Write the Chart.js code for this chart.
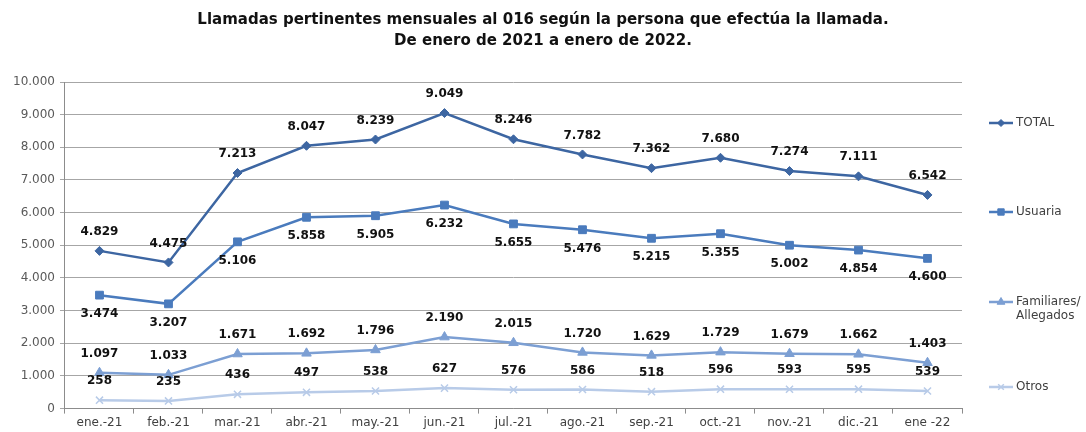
<!DOCTYPE html>
<html>
<head>
<meta charset="utf-8">
<script src="https://cdn.jsdelivr.net/npm/chart.js@4/dist/chart.umd.min.js"></script>
<style>
  html, body { margin: 0; padding: 0; background: #fff; }
  #wrap { width: 1086px; height: 432px; position: relative; }
</style>
</head>
<body>
<div id="wrap"><canvas id="llamadasChart"></canvas></div>
<script>
const meses = ['ene.-21', 'feb.-21', 'mar.-21', 'abr.-21', 'may.-21', 'jun.-21', 'jul.-21',
  'ago.-21', 'sep.-21', 'oct.-21', 'nov.-21', 'dic.-21', 'ene -22'];
const total = [4829, 4475, 7213, 8047, 8239, 9049, 8246, 7782, 7362, 7680, 7274, 7111, 6542];
const usuaria = [3474, 3207, 5106, 5858, 5905, 6232, 5655, 5476, 5215, 5355, 5002, 4854, 4600];
const familiares = [1097, 1033, 1671, 1692, 1796, 2190, 2015, 1720, 1629, 1729, 1679, 1662, 1403];
const otros = [258, 235, 436, 497, 538, 627, 576, 586, 518, 596, 593, 595, 539];
const titulo = ['Llamadas pertinentes mensuales al 016 según la persona que efectúa la llamada.',
  'De enero de 2021 a enero de 2022.'];

const fontName = "'DejaVu Sans', sans-serif";

function fmt(v) {
  return String(v).replace(/\B(?=(\d{3})+(?!\d))/g, '.');
}

function serie(label, values, color, style, radius, labelPos) {
  return {
    label: label,
    data: values,
    borderColor: color,
    backgroundColor: color,
    borderWidth: 2.5,
    pointStyle: style,
    pointRadius: radius,
    pointBorderWidth: style === 'crossRot' ? 1.5 : 1,
    pointBorderColor: color,
    tension: 0,
    labelPos: labelPos
  };
}

const data = {
  labels: meses,
  datasets: [
    serie('TOTAL', total, '#3d66a2', 'rectRot', 4.5, 'above'),
    serie('Usuaria', usuaria, '#4a7bbd', 'rect', 5.5, 'below'),
    serie('Familiares/\nAllegados', familiares, '#7c9fd3', 'triangle', 5.5, 'above'),
    serie('Otros', otros, '#b8cbe8', 'crossRot', 5, 'above')
  ]
};

// título centrado en todo el ancho del lienzo
const pageTitle = {
  id: 'pageTitle',
  afterDraw(chart) {
    const ctx = chart.ctx;
    ctx.save();
    ctx.font = 'bold 15px ' + fontName;
    ctx.fillStyle = '#111';
    ctx.textAlign = 'center';
    ctx.textBaseline = 'middle';
    titulo.forEach((t, k) => ctx.fillText(t, chart.width / 2, 20 + k * 21));
    ctx.restore();
  }
};

// valores encima / debajo de cada punto
const valueLabels = {
  id: 'valueLabels',
  afterDatasetsDraw(chart) {
    const ctx = chart.ctx;
    ctx.save();
    ctx.font = 'bold 12px ' + fontName;
    ctx.fillStyle = '#111';
    ctx.textAlign = 'center';
    ctx.textBaseline = 'middle';
    chart.data.datasets.forEach((ds, i) => {
      chart.getDatasetMeta(i).data.forEach((pt, j) => {
        const dy = ds.labelPos === 'below' ? 19 : -19;
        ctx.fillText(fmt(ds.data[j]), pt.x, pt.y + dy);
      });
    });
    ctx.restore();
  }
};

// leyenda a la derecha, cada serie a su altura
const sideLegend = {
  id: 'sideLegend',
  afterDraw(chart) {
    const ctx = chart.ctx;
    const rows = [123, 212, 302, 387];
    ctx.save();
    chart.data.datasets.forEach((ds, i) => {
      const y = rows[i];
      const x0 = 989;
      ctx.strokeStyle = ds.borderColor;
      ctx.lineWidth = 2.5;
      ctx.beginPath();
      ctx.moveTo(x0, y);
      ctx.lineTo(x0 + 24, y);
      ctx.stroke();
      ctx.fillStyle = ds.backgroundColor;
      ctx.lineWidth = ds.pointBorderWidth;
      Chart.helpers.drawPoint(ctx, {pointStyle: ds.pointStyle, radius: ds.pointRadius - 1, rotation: 0, borderWidth: ds.pointBorderWidth}, x0 + 12, y);
      ctx.fillStyle = '#404040';
      ctx.font = '12px ' + fontName;
      ctx.textAlign = 'left';
      ctx.textBaseline = 'middle';
      ds.label.split('\n').forEach((t, k) => {
        ctx.fillText(t, x0 + 27, y + k * 14);
      });
    });
    ctx.restore();
  }
};

new Chart(document.getElementById('llamadasChart'), {
  type: 'line',
  data: data,
  plugins: [pageTitle, valueLabels, sideLegend],
  options: {
    responsive: true,
    maintainAspectRatio: false,
    animation: false,
    layout: { padding: { left: 8, right: 124, top: 82, bottom: 0 } },
    plugins: {
      legend: { display: false },
      tooltip: { enabled: false },
      title: { display: false }
    },
    scales: {
      x: {
        offset: true,
        grid: { offset: true, drawOnChartArea: false, drawTicks: true, tickLength: 5, color: '#8c8c8c' },
        border: { color: '#8c8c8c' },
        ticks: { color: '#404040', font: { family: fontName, size: 12 }, maxRotation: 0, autoSkip: false, padding: 2 }
      },
      y: {
        min: 0,
        max: 10000,
        grid: { color: '#a6a6a6', tickLength: 5 },
        border: { color: '#8c8c8c' },
        ticks: {
          stepSize: 1000,
          color: '#595959',
          font: { family: fontName, size: 12 },
          padding: 5,
          callback: v => fmt(v)
        }
      }
    }
  }
});
</script>
</body>
</html>
